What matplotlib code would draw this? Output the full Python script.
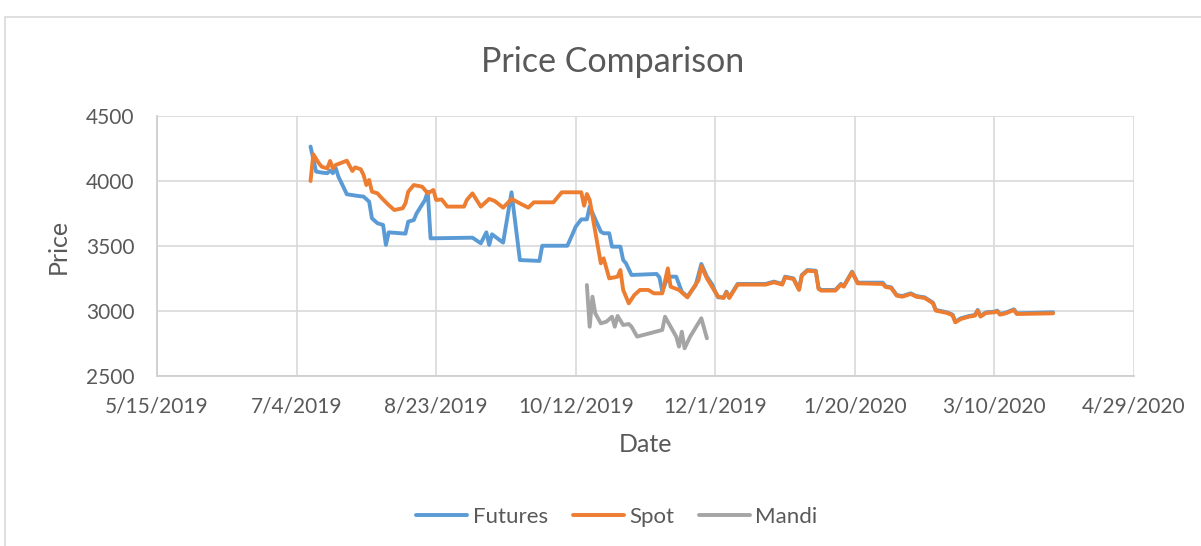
import matplotlib
matplotlib.use("Agg")
import matplotlib.pyplot as plt
import pandas as pd
from matplotlib.patches import Rectangle

futures_dates = ["2019-07-09","2019-07-11","2019-07-13","2019-07-15","2019-07-16","2019-07-17","2019-07-18",
    "2019-07-19","2019-07-21","2019-07-22","2019-07-26","2019-07-28","2019-07-30","2019-07-31","2019-08-02",
    "2019-08-04","2019-08-05","2019-08-06","2019-08-12","2019-08-13","2019-08-15","2019-08-16","2019-08-19",
    "2019-08-20","2019-08-21","2019-09-05","2019-09-08","2019-09-10","2019-09-11","2019-09-12","2019-09-16",
    "2019-09-19","2019-09-22","2019-09-29","2019-09-30","2019-10-09","2019-10-11","2019-10-12","2019-10-14",
    "2019-10-16","2019-10-17","2019-10-21","2019-10-22","2019-10-24","2019-10-25","2019-10-28","2019-10-29",
    "2019-10-30","2019-11-01","2019-11-10","2019-11-11","2019-11-12","2019-11-14","2019-11-17","2019-11-19",
    "2019-11-21","2019-11-24","2019-11-26","2019-11-28","2019-11-30","2019-12-01","2019-12-02","2019-12-04",
    "2019-12-05","2019-12-06","2019-12-09","2019-12-19","2019-12-22","2019-12-25","2019-12-26","2019-12-29",
    "2019-12-31","2020-01-01","2020-01-03","2020-01-06","2020-01-07","2020-01-08","2020-01-13","2020-01-15",
    "2020-01-16","2020-01-19","2020-01-21","2020-01-30","2020-01-31","2020-02-02","2020-02-04","2020-02-06",
    "2020-02-09","2020-02-11","2020-02-14","2020-02-17","2020-02-18","2020-02-22","2020-02-24","2020-02-25",
    "2020-02-27","2020-03-01","2020-03-03","2020-03-04","2020-03-05","2020-03-07","2020-03-10","2020-03-11",
    "2020-03-12","2020-03-14","2020-03-17","2020-03-18","2020-03-31"]
futures_values = [4265,4072,4065,4060,4080,4060,4100,
    4033,3944,3898,3885,3880,3841,3713,3675,
    3662,3508,3605,3595,3687,3700,3751,3854,
    3918,3559,3564,3521,3605,3508,3590,3526,
    3913,3392,3385,3502,3502,3598,3649,3705,
    3705,3803,3610,3598,3598,3495,3495,3392,
    3367,3277,3285,3259,3149,3264,3264,3149,
    3110,3200,3362,3264,3200,3149,3105,3105,
    3149,3105,3208,3208,3226,3208,3264,3251,
    3167,3277,3315,3310,3175,3162,3162,3208,
    3192,3303,3218,3218,3190,3182,3123,3115,
    3136,3115,3105,3064,3008,2990,2972,2918,
    2944,2962,2969,3008,2962,2990,2995,3003,
    2977,2987,3013,2982,2990]

spot_dates = ["2019-07-09","2019-07-10","2019-07-12","2019-07-13","2019-07-15","2019-07-16","2019-07-17",
    "2019-07-18","2019-07-22","2019-07-24","2019-07-25","2019-07-27","2019-07-28","2019-07-29","2019-07-30",
    "2019-07-31","2019-08-02","2019-08-03","2019-08-06","2019-08-08","2019-08-11","2019-08-12","2019-08-13",
    "2019-08-15","2019-08-18","2019-08-20","2019-08-22","2019-08-23","2019-08-25","2019-08-27","2019-09-02",
    "2019-09-03","2019-09-05","2019-09-08","2019-09-11","2019-09-13","2019-09-16","2019-09-19","2019-09-22",
    "2019-09-25","2019-09-27","2019-10-04","2019-10-07","2019-10-14","2019-10-15","2019-10-16","2019-10-17",
    "2019-10-21","2019-10-22","2019-10-24","2019-10-27","2019-10-28","2019-10-29","2019-10-31","2019-11-02",
    "2019-11-04","2019-11-07","2019-11-09","2019-11-12","2019-11-14","2019-11-15","2019-11-18","2019-11-21",
    "2019-11-25","2019-11-26","2019-11-28","2019-12-02","2019-12-04","2019-12-05","2019-12-06","2019-12-09",
    "2019-12-19","2019-12-22","2019-12-25","2019-12-26","2019-12-29","2019-12-31","2020-01-01","2020-01-03",
    "2020-01-06","2020-01-07","2020-01-08","2020-01-13","2020-01-15","2020-01-16","2020-01-19","2020-01-21",
    "2020-01-30","2020-01-31","2020-02-02","2020-02-04","2020-02-06","2020-02-09","2020-02-11","2020-02-14",
    "2020-02-17","2020-02-18","2020-02-22","2020-02-24","2020-02-25","2020-02-27","2020-03-01","2020-03-03",
    "2020-03-04","2020-03-05","2020-03-07","2020-03-10","2020-03-11","2020-03-12","2020-03-14","2020-03-17",
    "2020-03-18","2020-03-31"]
spot_values = [4000,4205,4136,4110,4097,4154,4097,
    4123,4156,4077,4105,4090,4046,3969,4008,
    3918,3905,3880,3815,3777,3790,3828,3918,
    3969,3956,3905,3931,3854,3858,3803,3803,
    3854,3905,3803,3862,3846,3795,3862,3828,
    3795,3836,3836,3913,3913,3810,3900,3854,
    3367,3405,3251,3264,3315,3162,3059,3123,
    3162,3162,3136,3136,3328,3187,3162,3105,
    3238,3346,3251,3110,3100,3144,3100,3203,
    3203,3221,3203,3259,3246,3162,3272,3310,
    3305,3170,3157,3157,3203,3187,3298,3213,
    3208,3185,3177,3118,3110,3131,3110,3100,
    3059,3003,2985,2967,2913,2939,2957,2964,
    3003,2957,2985,2990,2998,2972,2982,3008,
    2977,2982]

mandi_dates = ["2019-10-16","2019-10-17","2019-10-18","2019-10-19","2019-10-21","2019-10-23","2019-10-25",
    "2019-10-26","2019-10-27","2019-10-29","2019-10-31","2019-11-01","2019-11-03","2019-11-12","2019-11-13",
    "2019-11-15","2019-11-17","2019-11-18","2019-11-19","2019-11-20","2019-11-22","2019-11-26","2019-11-28"]
mandi_values = [3200,2879,3110,2982,2905,2918,2956,
    2879,2962,2892,2900,2879,2803,2854,2956,
    2879,2803,2726,2841,2713,2803,2944,2790]

tick_dates = ["2019-05-15","2019-07-04","2019-08-23","2019-10-12","2019-12-01",
              "2020-01-20","2020-03-10","2020-04-29"]
y_ticks = [2500, 3000, 3500, 4000, 4500]

FONT = ["Lato", "DejaVu Sans"]
plt.rcParams["font.family"] = FONT
TXT = "#595959"
GRID = "#d9d9d9"

fig = plt.figure(figsize=(12.01, 5.46), dpi=100)
fig.patches.append(Rectangle((5/1201, -0.1), 1.2, (546-17)/546 + 0.1, transform=fig.transFigure,
                             fill=False, edgecolor=GRID, linewidth=1.2))
ax = fig.add_axes([157/1201, 1-376/546, (1134-157)/1201, (376-116)/546])

lw = 2.8
ax.plot(pd.to_datetime(futures_dates), futures_values, color="#5B9BD5", lw=lw, label="Futures",
        solid_joinstyle="round", solid_capstyle="round")
ax.plot(pd.to_datetime(spot_dates), spot_values, color="#ED7D31", lw=lw, label="Spot",
        solid_joinstyle="round", solid_capstyle="round")
ax.plot(pd.to_datetime(mandi_dates), mandi_values, color="#A5A5A5", lw=lw, label="Mandi",
        solid_joinstyle="round", solid_capstyle="round")

td = pd.to_datetime(tick_dates)
ax.set_xlim(td[0], td[-1])
ax.set_xticks(td)
ax.set_xticklabels([f"{d.month}/{d.day}/{d.year}" for d in td])
ax.set_ylim(2500, 4500)
ax.set_yticks(y_ticks)
ax.grid(True, color=GRID, lw=1.2)
ax.set_axisbelow(True)
for s in ["top", "right"]:
    ax.spines[s].set_visible(False)
for s in ["bottom", "left"]:
    ax.spines[s].set_color("#cfcfcf")
    ax.spines[s].set_linewidth(1.3)
ax.tick_params(length=0, labelsize=15, colors=TXT)
ax.tick_params(axis="x", pad=15)
ax.tick_params(axis="y", pad=16)

ax.set_xlabel("Date", fontsize=18, color=TXT, labelpad=12)
ax.set_ylabel("Price", fontsize=18, color=TXT, labelpad=12)
fig.text(613/1201, 1-62/546, "Price Comparison", fontsize=24.5, color=TXT, ha="center", va="center")

leg = fig.legend(loc="center", bbox_to_anchor=(617/1201, 1-517/546), ncol=3, frameon=False,
                 fontsize=16, handlelength=2.3, columnspacing=1.1, handletextpad=0.25)
for t in leg.get_texts():
    t.set_color(TXT)

fig.savefig("out.png", dpi=100)
